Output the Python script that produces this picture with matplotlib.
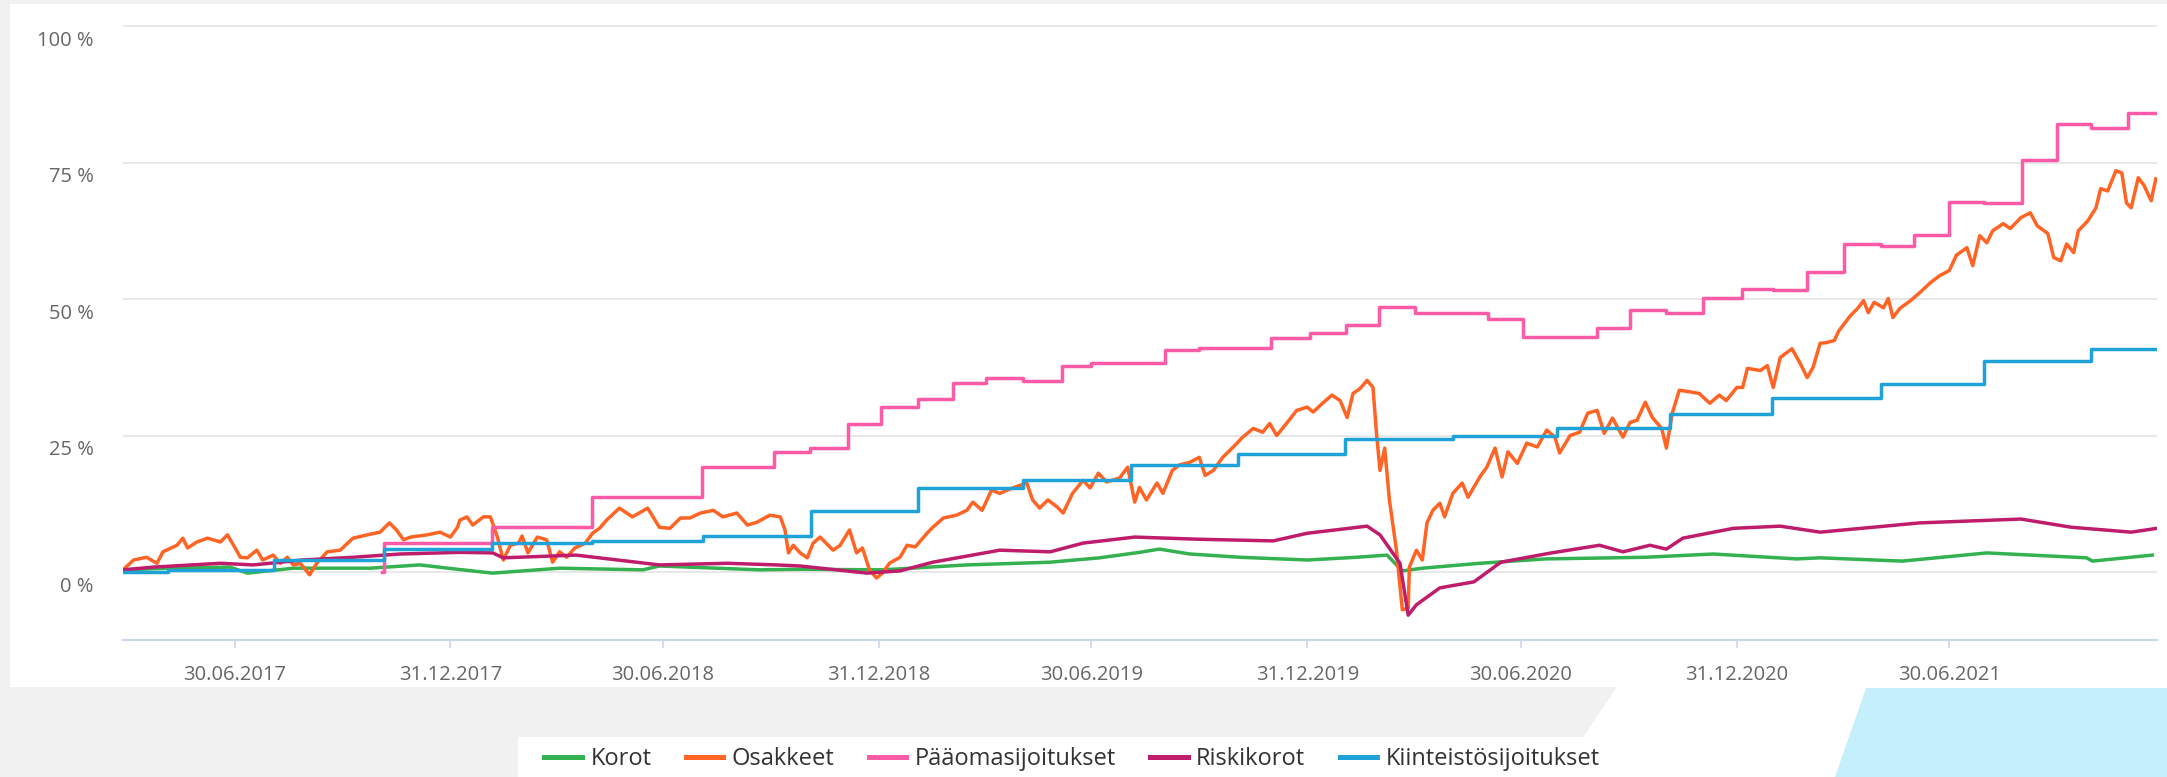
import pandas as pd
import matplotlib
matplotlib.use('Agg')
import matplotlib.pyplot as plt
import matplotlib.dates as mdates
from matplotlib.patches import Polygon, Rectangle
from matplotlib.lines import Line2D
from matplotlib.transforms import ScaledTranslation

plt.rcParams['font.family'] = ['Open Sans', 'DejaVu Sans']

# x values are days counted from 27.03.2017 (left edge of the chart)
start = pd.Timestamp('2017-03-27')
end_day = 1733

labels = ['Korot', 'Osakkeet', 'Pääomasijoitukset', 'Riskikorot', 'Kiinteistösijoitukset']
colors = ['#34b150', '#ff6424', '#fd5ba7', '#bf1d6c', '#1ea2d7']

# Korot
kor_day = [0, 40, 91, 106, 145, 210, 253, 285, 315, 372, 443, 457, 543, 577, 647, 719, 790,
           832, 866, 883, 909, 952, 1009, 1051, 1077, 1090, 1107, 1156, 1212, 1297, 1355,
           1426, 1446, 1516, 1588, 1673, 1678, 1729]
kor_val = [0.4, 0.7, 0.9, -0.2, 0.7, 0.7, 1.3, 0.5, -0.2, 0.7, 0.4, 1.1, 0.4, 0.5, 0.4, 1.3, 1.8,
           2.6, 3.6, 4.2, 3.3, 2.7, 2.2, 2.7, 3.1, 0.2, 0.7, 1.6, 2.4, 2.7, 3.3,
           2.4, 2.6, 2.0, 3.5, 2.6, 2.0, 3.1]

# Osakkeet
osa_day = [0, 9, 20, 29, 34, 46, 51, 55, 63, 72, 83, 89, 95, 100, 106, 114, 119, 128, 134, 140,
           145, 151, 159, 165, 174, 185, 196, 208, 219, 227, 233, 239, 245, 259, 270, 279, 285,
           287, 293, 298, 307, 313, 319, 324, 330, 337, 340, 345, 353, 361, 366, 372, 378, 385,
           394, 400, 406, 412, 423, 434, 447, 457, 466, 475, 483, 492, 503, 511, 523, 532, 540,
           551, 560, 564, 567, 571, 577,
           583, 588, 594, 605, 611, 619, 625, 630, 636, 642, 647, 653, 662, 668, 675, 685, 690,
           699, 710, 719, 724, 732, 740, 747, 758, 770, 775, 781, 788, 796, 801, 809, 818, 824,
           831, 838, 849, 856, 862, 866,
           872, 881, 886, 894, 900, 909, 917, 922, 929, 937, 946, 954, 963, 971, 977, 983, 992,
           1000, 1009, 1014, 1022, 1030, 1037, 1043, 1048, 1054, 1060, 1065, 1068, 1071, 1075,
           1079, 1085, 1090, 1095, 1096, 1102, 1107, 1111, 1116, 1122, 1126, 1133, 1141, 1146, 1156,
           1162, 1169, 1175, 1180, 1188, 1196, 1205, 1213, 1220, 1224, 1233, 1241, 1248, 1256,
           1262, 1269, 1278, 1284, 1290, 1297, 1303, 1311, 1315, 1320, 1326, 1335, 1343, 1352,
           1360, 1366, 1375, 1380, 1384, 1395, 1401, 1406, 1412, 1422, 1429, 1435, 1440, 1446,
           1451, 1458, 1462, 1472, 1478, 1483, 1487, 1492, 1500, 1504, 1508, 1514, 1523, 1531,
           1540, 1548, 1556, 1562, 1571, 1576, 1582, 1588, 1593, 1602, 1608, 1617, 1625, 1631,
           1640, 1645, 1651, 1656, 1662, 1666, 1674, 1681, 1685, 1691, 1698, 1703, 1707, 1711,
           1717, 1722, 1728, 1732]
osa_val = [0.4, 2.2, 2.7, 1.6, 3.7, 4.9, 6.2, 4.4, 5.5, 6.2, 5.5, 6.8, 4.6, 2.7, 2.6, 4.0, 2.2,
           3.1, 1.6, 2.7, 1.3, 1.6, -0.5, 1.6, 3.7, 4.0, 6.2, 6.8, 7.3, 9.0, 7.7, 5.9, 6.4, 6.8,
           7.3, 6.4, 8.2,
           9.5, 10.1, 8.6, 10.1, 10.1, 6.4, 2.2, 4.9, 5.3, 6.6, 3.5, 6.4, 5.9, 1.8, 3.7, 2.7, 4.4,
           5.3, 7.1, 8.0, 9.5, 11.7, 10.1, 11.7, 8.2, 8.0, 9.9, 9.9, 10.8, 11.3, 10.1, 10.8, 8.6,
           9.1, 10.4, 10.1, 7.7, 3.5, 4.9, 3.5,
           2.6, 5.3, 6.4, 4.0, 4.9, 7.7, 3.5, 4.4, 0.4, -1.1, -0.2, 1.6, 2.7, 4.9, 4.6, 7.1, 8.2,
           9.9, 10.4, 11.3, 12.8, 11.3, 15.0, 14.4, 15.4, 16.3, 13.2, 11.7, 13.2, 11.9, 10.8,
           14.4, 16.8, 15.4, 18.1, 16.5, 17.2, 19.2, 12.8, 15.5,
           13.2, 16.3, 14.4, 18.6, 19.6, 20.1, 21.0, 17.7, 18.6, 21.0, 22.9, 24.7, 26.3, 25.6,
           27.2, 25.0, 27.4, 29.6, 30.2, 29.3, 30.9, 32.4, 31.4, 28.3, 32.7, 33.6, 35.1, 33.8,
           25.4, 18.6, 22.7, 13.2, 4.0, -6.9, -6.6, 0.9, 4.0, 2.2, 9.0, 11.3, 12.6, 10.1, 14.4,
           16.3, 13.7, 17.4,
           19.2, 22.7, 17.4, 22.0, 19.9, 23.6, 22.9, 26.0, 24.7, 21.8, 25.0, 25.6, 29.1, 29.6,
           25.4, 28.2, 24.7, 27.4, 27.8, 31.1, 28.3, 26.3, 22.7, 29.1, 33.3, 33.0, 32.7, 30.9,
           32.4, 31.4, 33.8, 33.8, 37.3, 36.9, 37.8, 33.8, 39.3, 40.9, 38.2, 35.6, 37.5, 41.9,
           42.0, 42.4, 44.2, 47.0, 48.3, 49.7, 47.5, 49.4, 48.4, 50.1, 46.6, 48.3, 49.7, 51.2,
           53.0, 54.3, 55.2, 58.0, 59.4, 56.1, 61.6, 60.3, 62.5, 63.8, 62.9, 64.9, 65.8, 63.4,
           62.0, 57.6, 57.0, 60.1, 58.5, 62.5, 64.3, 66.7, 70.2, 69.8, 73.5, 73.1, 67.6, 66.7,
           72.2, 70.8, 68.0, 72.0]

# Pääomasijoitukset (step series)
pao_day = [221, 222, 314, 400, 493, 555, 585, 618, 646, 677, 707, 735, 767, 800, 825, 888, 917,
           978, 1011, 1042, 1070, 1101, 1163, 1193, 1256, 1284, 1315, 1346, 1379, 1406, 1435,
           1466, 1498, 1526, 1556, 1586, 1618, 1648, 1677, 1708, 1733]
pao_val = [0.0, 5.3, 8.2, 13.7, 19.2, 21.9, 22.7, 27.2, 30.3, 31.6, 34.7, 35.5, 34.9, 37.7, 38.2,
           40.6, 41.1, 42.8, 43.7, 45.2, 48.6, 47.4, 46.4, 43.1, 44.6, 47.9, 47.5, 50.1, 51.9,
           51.7, 55.0, 60.1, 59.8, 61.8, 67.8, 67.6, 75.5, 82.1, 81.4, 84.1, 84.1]

# Riskikorot
ris_day = [0, 26, 83, 111, 153, 196, 236, 287, 315, 324, 386, 457, 515, 557, 577, 634, 662, 690,
           747, 790, 818, 862, 917, 980, 1009, 1060, 1071, 1088, 1095, 1102, 1122, 1151, 1174,
           1217, 1258, 1278, 1301, 1315, 1329, 1372, 1412, 1446, 1531, 1617, 1660, 1711, 1733]
ris_val = [0.4, 0.9, 1.6, 1.3, 2.2, 2.7, 3.3, 3.6, 3.5, 2.6, 3.1, 1.3, 1.6, 1.3, 1.1, -0.2, 0.2,
           1.8, 4.0, 3.7, 5.3, 6.4, 6.0, 5.7, 7.1, 8.4, 6.8, 1.6, -7.9, -6.0, -2.9, -1.8, 1.8,
           3.5, 4.9, 3.7, 4.9, 4.2, 6.2, 8.0, 8.4, 7.3, 9.0, 9.7, 8.2, 7.3, 8.0]

# Kiinteistösijoitukset (step series)
kii_day = [0, 38, 129, 222, 314, 400, 494, 586, 677, 767, 859, 950, 1041, 1133, 1222, 1318, 1405,
           1498, 1586, 1677, 1733]
kii_val = [0.0, 0.3, 2.2, 4.2, 5.3, 5.7, 6.6, 11.2, 15.4, 16.8, 19.6, 21.6, 24.3, 24.9, 26.3,
           28.9, 31.8, 34.4, 38.6, 40.8, 40.8]

tick_dates = ['2017-06-30', '2017-12-31', '2018-06-30', '2018-12-31', '2019-06-30',
              '2019-12-31', '2020-06-30', '2020-12-31', '2021-06-30']
y_ticks = [0, 25, 50, 75, 100]


def to_dates(days):
    return start + pd.to_timedelta(days, unit='D')


W, H = 2167, 777
fig = plt.figure(figsize=(W / 100, H / 100), dpi=100, facecolor='#f1f1f1')


def fx(x):
    return x / W


def fy(y):
    return 1 - y / H


# page background pieces (kept below the axes)
bg = dict(transform=fig.transFigure, edgecolor='none', zorder=-5)
fig.patches.append(Rectangle((fx(10), fy(687)), 1 - fx(10), fy(4) - fy(687),
                             facecolor='white', **bg))
fig.patches.append(Polygon([(fx(1617), fy(687)), (1, fy(687)), (1, 0), (fx(518), 0),
                            (fx(518), fy(737)), (fx(1583), fy(737))], closed=True,
                           facecolor='white', **bg))
fig.patches.append(Polygon([(fx(1866), fy(688)), (1, fy(688)), (1, 0), (fx(1835), 0)], closed=True,
                           facecolor='#c6effc', **bg))

ymin, ymax = -12.45, 100.3
px_per_pct = 5.46
top_px = 26 - (ymax - 100) * px_per_pct
ax = fig.add_axes([fx(123), fy(640), fx(2157) - fx(123), fy(top_px) - fy(640)])
ax.set_zorder(5)
ax.set_facecolor('none')

lw = 2.5
ax.plot(to_dates(kor_day), kor_val, color=colors[0], lw=lw, zorder=3)
ax.plot(to_dates(osa_day), osa_val, color=colors[1], lw=lw, zorder=4)
ax.plot(to_dates(pao_day), pao_val, color=colors[2], lw=lw, drawstyle='steps-post', zorder=5)
ax.plot(to_dates(ris_day), ris_val, color=colors[3], lw=lw, zorder=6)
ax.plot(to_dates(kii_day), kii_val, color=colors[4], lw=lw, drawstyle='steps-post', zorder=7)

ax.set_xlim(start, to_dates([end_day])[0])
ax.set_ylim(ymin, ymax)

for side in ['top', 'left', 'right']:
    ax.spines[side].set_visible(False)
ax.spines['bottom'].set_color('#ccd6eb')
ax.spines['bottom'].set_linewidth(1.5)

ax.set_yticks(y_ticks)
ax.set_yticklabels([f'{v} %' for v in y_ticks])
ax.yaxis.grid(True, color='#e8e8e8', lw=1.4)
ax.set_axisbelow(True)
ax.tick_params(axis='y', length=0, pad=21, labelsize=14.5, labelcolor='#666666')

ax.set_xticks(pd.to_datetime(tick_dates))
ax.xaxis.set_major_formatter(mdates.DateFormatter('%d.%m.%Y'))
ax.tick_params(axis='x', length=6, width=1.2, color='#ccd6eb', pad=12,
               labelsize=14.5, labelcolor='#666666')

shift = ScaledTranslation(0, -0.12, fig.dpi_scale_trans)
for lab in ax.get_yticklabels():
    lab.set_transform(lab.get_transform() + shift)

handles = [Line2D([], [], color=c, lw=3.6) for c in colors]
fig.legend(handles, labels, loc='center', bbox_to_anchor=(fx(1072), fy(759)), ncol=5,
           frameon=False, fontsize=17, handlelength=1.6, handletextpad=0.35,
           columnspacing=1.45, labelcolor='#333333')

fig.savefig('out.png', dpi=100, facecolor=fig.get_facecolor())
